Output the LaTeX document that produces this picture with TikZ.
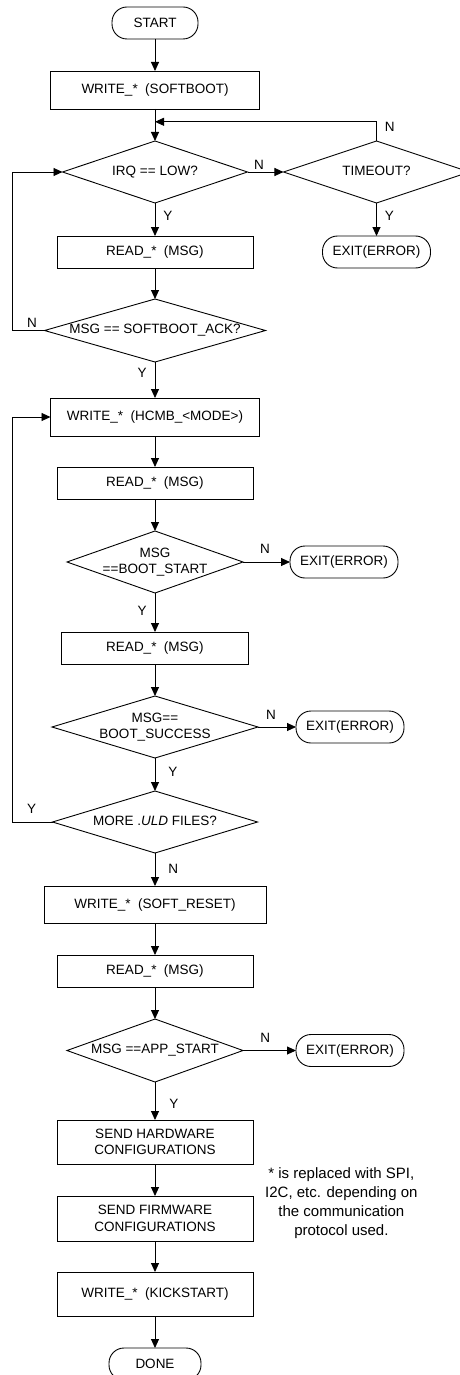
\documentclass[tikz,border=0pt]{standalone}
\usepackage{fontspec}
\setmainfont{Liberation Sans}
\usetikzlibrary{shapes.geometric, arrows.meta, positioning, calc}
\newcommand{\dtxt}[1]{\makebox[0pt]{\begin{tabular}{@{}c@{}}#1\end{tabular}}}

\begin{document}
\begin{tikzpicture}[
        node distance=32pt and 36pt,
        every node/.style={font=\fontsize{13.5}{16.5}\selectfont},
        box/.style={rectangle, draw, line width=0.9pt, minimum width=196pt, minimum height=32pt, align=center, inner sep=0pt, outer sep=0pt},
        term/.style={rectangle, draw, rounded corners=15pt, line width=0.9pt, minimum height=32pt, inner sep=0pt, outer sep=0pt},
        decision/.style={diamond, draw, line width=0.9pt, minimum height=62pt, inner sep=0pt, outer sep=0pt},
        lbl/.style={inner sep=2pt},
        arrow/.style={-{Triangle[length=9pt, width=8pt]}, line width=0.9pt}
    ]
        \useasboundingbox (0,0) rectangle (460pt,-1375pt);
        \node[term, minimum width=86pt] (start) at (155pt,-23pt) {START};
        \node[box, below=of start, minimum width=209pt, minimum height=38pt] (write1) {WRITE\_*\ \ (SOFTBOOT)};
        \node[decision, below=of write1, minimum width=185pt] (irq) {\dtxt{IRQ == LOW?}};
        \node[decision, right=36pt of irq, minimum width=186pt] (timeout) {\dtxt{TIMEOUT?}};
        \node[term, below=33pt of timeout, minimum width=108pt] (exit1) {EXIT(ERROR)};
        \node[box, below=33pt of irq] (read1) {READ\_*\ \ (MSG)};
        \node[decision, below=31pt of read1, minimum width=221pt, minimum height=63pt] (ack) {\dtxt{MSG == SOFTBOOT\_ACK?}};
        \node[box, below=36pt of ack, minimum width=209pt, minimum height=38pt] (hcmb) {WRITE\_*\ \ (HCMB\_<MODE>)};
        \node[box, below=31pt of hcmb] (read2) {READ\_*\ \ (MSG)};
        \node[decision, below=of read2, minimum width=176pt] (bstart) {\dtxt{MSG\\==BOOT\_START}};
        \node[term, right=47pt of bstart, minimum width=108pt] (exit2) {EXIT(ERROR)};
        \node[box, below=39pt of bstart, minimum width=187pt] (read3) {READ\_*\ \ (MSG)};
        \node[decision, below=of read3, minimum width=206pt] (bsucc) {\dtxt{MSG==\\BOOT\_SUCCESS}};
        \node[term, right=38pt of bsucc, minimum width=108pt] (exit3) {EXIT(ERROR)};
        \node[decision, below=33pt of bsucc, minimum width=205pt] (more) {\dtxt{MORE .\textit{ULD} FILES?}};
        \node[box, below=33pt of more, minimum width=222pt, minimum height=37pt] (softrst) {WRITE\_*\ \ (SOFT\_RESET)};
        \node[box, below=of softrst] (read4) {READ\_*\ \ (MSG)};
        \node[decision, below=of read4, minimum width=176pt, minimum height=63pt] (app) {\dtxt{MSG ==APP\_START}};
        \node[term, right=53pt of app, minimum width=108pt] (exit4) {EXIT(ERROR)};
        \node[box, below=38pt of app, minimum height=44pt] (sendhw) {SEND HARDWARE\\CONFIGURATIONS};
        \node[box, below=of sendhw, minimum height=45pt] (sendfw) {SEND FIRMWARE\\CONFIGURATIONS};
        \node[box, below=31pt of sendfw, minimum height=44pt] (kick) {WRITE\_*\ \ (KICKSTART)};
        \node[term, below=of kick, minimum width=92pt] (done) {DONE};
        \node[font=\fontsize{15}{19}\selectfont, align=center, anchor=west, inner sep=0pt] (note) at ($(sendfw.east)+(12pt,15pt)$) {* is replaced with SPI,\\I2C, etc. depending on\\the communication\\protocol used.};

        % retry point above the IRQ test
        \coordinate (back) at ($(write1.south)!0.4!(irq.north)$);

        \draw[arrow] (start) -- (write1);
        \draw[arrow] (write1) -- (irq);
        \draw[arrow] (irq) -- node[lbl, above, pos=0.32] {N} (timeout);
        \draw[arrow] (timeout.north) |- node[lbl, right=6pt, pos=0.36] {N} (back);
        \draw[arrow] (timeout) -- node[lbl, right=6pt, pos=0.39] {Y} (exit1);
        \draw[arrow] (irq) -- node[lbl, right=6pt, pos=0.39] {Y} (read1);
        \draw[arrow] (read1) -- (ack);
        \draw[arrow] (ack.west) -- node[lbl, above=0.5pt, pos=0.39] {N} ++(-32pt,0) |- (irq.west);
        \draw[arrow] (ack) -- node[lbl, left=6pt, pos=0.31] {Y} (hcmb);
        \draw[arrow] (hcmb) -- (read2);
        \draw[arrow] (read2) -- (bstart);
        \draw[arrow] (bstart) -- node[lbl, above=6pt, pos=0.47] {N} (exit2);
        \draw[arrow] (bstart) -- node[lbl, left=6pt, pos=0.47] {Y} (read3);
        \draw[arrow] (read3) -- (bsucc);
        \draw[arrow] (bsucc) -- node[lbl, above=5pt, pos=0.34] {N} (exit3);
        \draw[arrow] (bsucc) -- node[lbl, right=11pt, pos=0.42] {Y} (more);
        % next .ULD file
        \draw[arrow] (more.west) -- node[lbl, above=6pt, pos=0.52] {Y} ++(-40pt,0) |- (hcmb.west);
        \draw[arrow] (more) -- node[lbl, right=11pt, pos=0.48] {N} (softrst);
        \draw[arrow] (softrst) -- (read4);
        \draw[arrow] (read4) -- (app);
        \draw[arrow] (app) -- node[lbl, above=6pt, pos=0.42] {N} (exit4);
        \draw[arrow] (app) -- node[lbl, right=12pt, pos=0.57] {Y} (sendhw);
        \draw[arrow] (sendhw) -- (sendfw);
        \draw[arrow] (sendfw) -- (kick);
        \draw[arrow] (kick) -- (done);
    \end{tikzpicture}
\end{document}
